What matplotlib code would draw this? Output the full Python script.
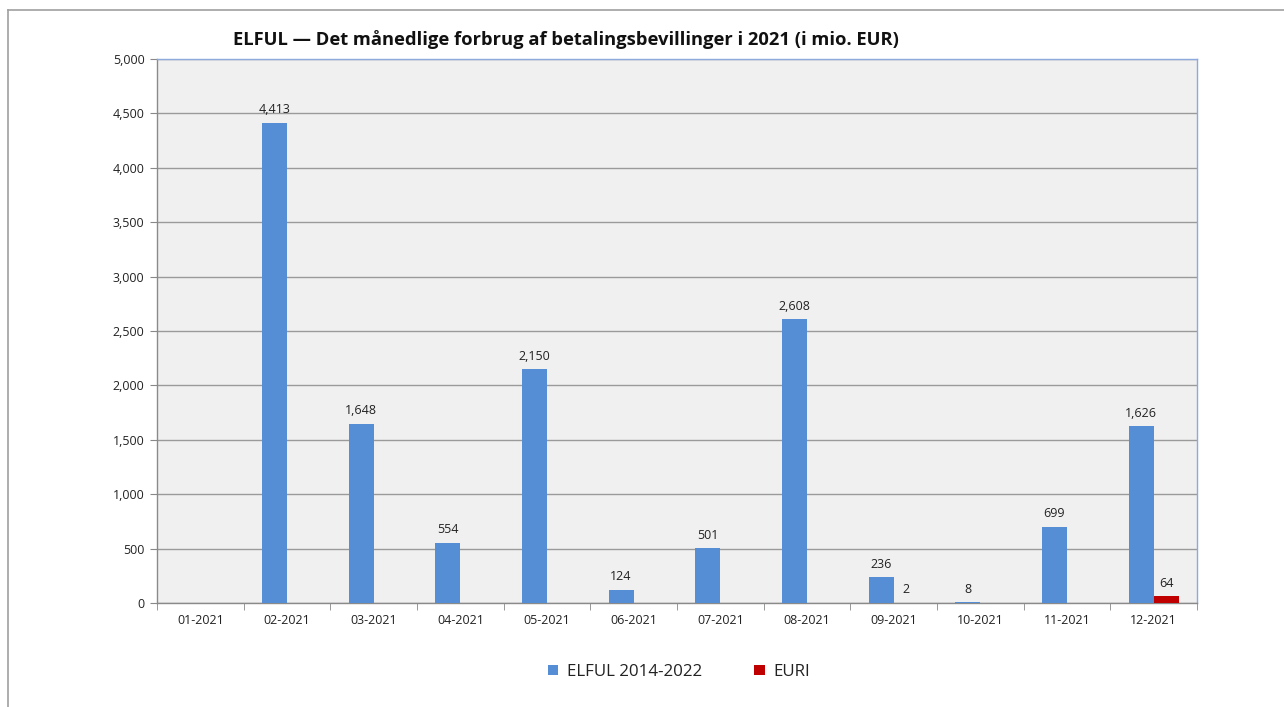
import matplotlib
matplotlib.use("Agg")
import matplotlib.pyplot as plt
import numpy as np
from matplotlib.lines import Line2D
from matplotlib.patches import Patch

months = ["01-2021", "02-2021", "03-2021", "04-2021", "05-2021", "06-2021",
          "07-2021", "08-2021", "09-2021", "10-2021", "11-2021", "12-2021"]
elful = [None, 4413, 1648, 554, 2150, 124, 501, 2608, 236, 8, 699, 1626]
euri = [None, None, None, None, None, None, None, None, 2, None, None, 64]
yticks = [0, 500, 1000, 1500, 2000, 2500, 3000, 3500, 4000, 4500, 5000]

plt.rcParams['font.family'] = ['Open Sans', 'DejaVu Sans']

fig = plt.figure(figsize=(12.84, 7.07), dpi=100)
W, H = 1284, 707
ax = fig.add_axes([157 / W, 1 - 603 / H, (1197 - 157) / W, (603 - 59) / H])
ax.set_facecolor("#F0F0F0")

x = np.arange(len(months))
bw = 0.29
blue = "#558ED5"
red = "#C00000"
ev = [v if v is not None else 0 for v in elful]
uv = [v if v is not None else 0 for v in euri]
ax.bar(x - bw / 2, ev, width=bw, color=blue, zorder=3)
ax.bar(x + bw / 2, uv, width=bw, color=red, zorder=3)

off = 60
for xi, v in zip(x, elful):
    if v is not None:
        ax.text(xi - bw / 2, v + off, f"{v:,}", ha="center", va="bottom",
                fontsize=9, color="#222222")
for xi, v in zip(x, euri):
    if v is not None:
        ax.text(xi + bw / 2, v + off, f"{v:,}", ha="center", va="bottom",
                fontsize=9, color="#222222")

ax.set_xlim(-0.5, len(months) - 0.5)
ax.set_ylim(0, 5000)
ax.set_yticks(yticks)
ax.set_yticklabels([f"{t:,}" for t in yticks], fontsize=9, color="#222222")
ax.set_xticks(x)
ax.set_xticklabels(months, fontsize=9, color="#222222")
ax.tick_params(axis="x", length=0, pad=8)
ax.set_xticks(np.arange(-0.5, len(months), 1), minor=True)
ax.tick_params(axis="x", which="minor", length=5, color="#888888", direction="out")
ax.tick_params(axis="y", length=5, color="#888888", direction="out", pad=4)
ax.grid(axis="y", color="#9A9A9A", linewidth=1, zorder=1)
ax.set_axisbelow(True)

ax.spines["left"].set_color("#8A8A8A")
ax.spines["bottom"].set_color("#8A8A8A")
ax.spines["top"].set_color("#8EA9DB")
ax.spines["right"].set_color("#8EA9DB")
for s in ax.spines.values():
    s.set_linewidth(1)

fig.text(233 / W, 1 - 40 / H, "ELFUL — Det månedlige forbrug af betalingsbevillinger i 2021 (i mio. EUR)",
         ha="left", va="center", fontsize=13.2, fontweight="bold", color="#111111")

handles = [Patch(facecolor=blue, label="ELFUL 2014-2022"), Patch(facecolor=red, label="EURI")]
leg = fig.legend(handles=handles, loc="center", bbox_to_anchor=(679 / W, 1 - 672 / H),
                 ncol=2, frameon=False, fontsize=12.2, handlelength=0.6, handleheight=0.6,
                 columnspacing=3.1, handletextpad=0.5)
for t in leg.get_texts():
    t.set_color("#222222")

# outer chart border
fig.add_artist(Line2D([8 / W, 1], [1 - 10 / H, 1 - 10 / H], color="#A0A0A0", linewidth=1.2,
                      transform=fig.transFigure))
fig.add_artist(Line2D([8 / W, 8 / W], [0, 1 - 10 / H], color="#A0A0A0", linewidth=1.2,
                      transform=fig.transFigure))

fig.savefig("out.png", dpi=100)
